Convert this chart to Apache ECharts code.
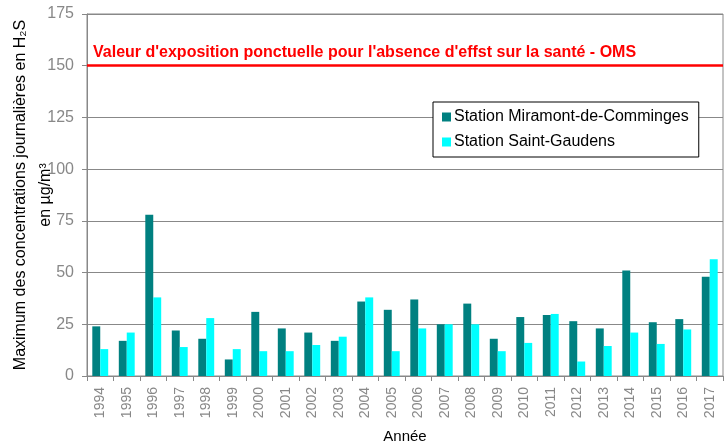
<!DOCTYPE html>
<html>
<head>
<meta charset="utf-8">
<script src="https://cdn.jsdelivr.net/npm/echarts@6/dist/echarts.min.js"></script>
<style>
  html, body { margin: 0; padding: 0; background: #fff; }
  #chart { width: 728px; height: 442px; }
</style>
</head>
<body>
<div id="chart"></div>
<script>
// années
const years = ['1994', '1995', '1996', '1997', '1998', '1999', '2000', '2001', '2002', '2003', '2004', '2005',
  '2006', '2007', '2008', '2009', '2010', '2011', '2012', '2013', '2014', '2015', '2016', '2017']
const miramont = [24, 17, 78, 22, 18, 8, 31, 23, 21, 17, 36, 32, 37, 25, 35, 18, 28.5, 29.5, 26.5, 23, 51, 26, 27.5, 48]
const saintGaudens = [13, 21, 38, 14, 28, 13, 12, 12, 15, 19, 38, 12, 23, 25, 25, 12, 16, 30, 7, 14.5, 21, 15.5, 22.5, 56.5]
const omsValue = 150
const yTicks = [0, 25, 50, 75, 100, 125, 150, 175]

const chart = echarts.init(document.getElementById('chart'))
const option = {
  animation: false,
  textStyle: { fontFamily: 'Liberation Sans, Arial, sans-serif' },
  grid: {
    left: 87, right: 5, top: 14, bottom: 66,
    outerBoundsMode: 'none',
    show: true, borderColor: '#888', borderWidth: 1
  },
  legend: {
    orient: 'vertical',
    left: 433, top: 102,
    backgroundColor: '#fff',
    borderColor: '#000', borderWidth: 1,
    padding: [7, 10, 7, 9],
    itemWidth: 9, itemHeight: 9, itemGap: 9,
    icon: 'rect',
    textStyle: { fontSize: 16, color: '#000', padding: [0, 0, 0, -2] },
    data: ['Station Miramont-de-Comminges', 'Station Saint-Gaudens']
  },
  xAxis: {
    type: 'category',
    data: years,
    name: 'Année',
    nameLocation: 'middle',
    nameGap: 53,
    nameMoveOverlap: false,
    nameTextStyle: { fontSize: 15, color: '#000' },
    axisLine: { lineStyle: { color: '#888' } },
    axisTick: { show: true, length: 5, lineStyle: { color: '#888' } },
    axisLabel: { rotate: 90, fontSize: 14, color: '#888', margin: 11 }
  },
  yAxis: {
    type: 'value',
    min: 0, max: 175, interval: 25,
    name: 'Maximum des concentrations journalières en H₂S\nen µg/m³',
    nameLocation: 'middle',
    nameGap: 29,
    nameMoveOverlap: false,
    nameTextStyle: { fontSize: 16, color: '#000', lineHeight: 25 },
    axisLine: { show: true, lineStyle: { color: '#888' } },
    axisTick: { show: true, length: 5, lineStyle: { color: '#888' } },
    axisLabel: {
      fontSize: 16, color: '#888', margin: 13,
      formatter: v => (yTicks.includes(v) ? String(v) : '')
    },
    splitLine: { lineStyle: { color: '#888' } }
  },
  series: [
    {
      name: 'Station Miramont-de-Comminges',
      type: 'bar',
      data: miramont,
      barGap: '0%',
      barCategoryGap: '40%',
      itemStyle: { color: '#008080' },
      markLine: {
        silent: true,
        symbol: 'none',
        lineStyle: { color: '#ff0000', width: 2.5, type: 'solid' },
        label: {
          show: true,
          position: 'insideStartTop',
          distance: [6, 5],
          formatter: "Valeur d'exposition ponctuelle pour l'absence d'effst sur la santé - OMS",
          color: '#ff0000',
          fontSize: 16,
          fontWeight: 'bold'
        },
        data: [{ yAxis: omsValue }]
      }
    },
    {
      name: 'Station Saint-Gaudens',
      type: 'bar',
      data: saintGaudens,
      barGap: '0%',
      barCategoryGap: '40%',
      itemStyle: { color: '#00ffff' }
    }
  ]
}
chart.setOption(option)
</script>
</body>
</html>
